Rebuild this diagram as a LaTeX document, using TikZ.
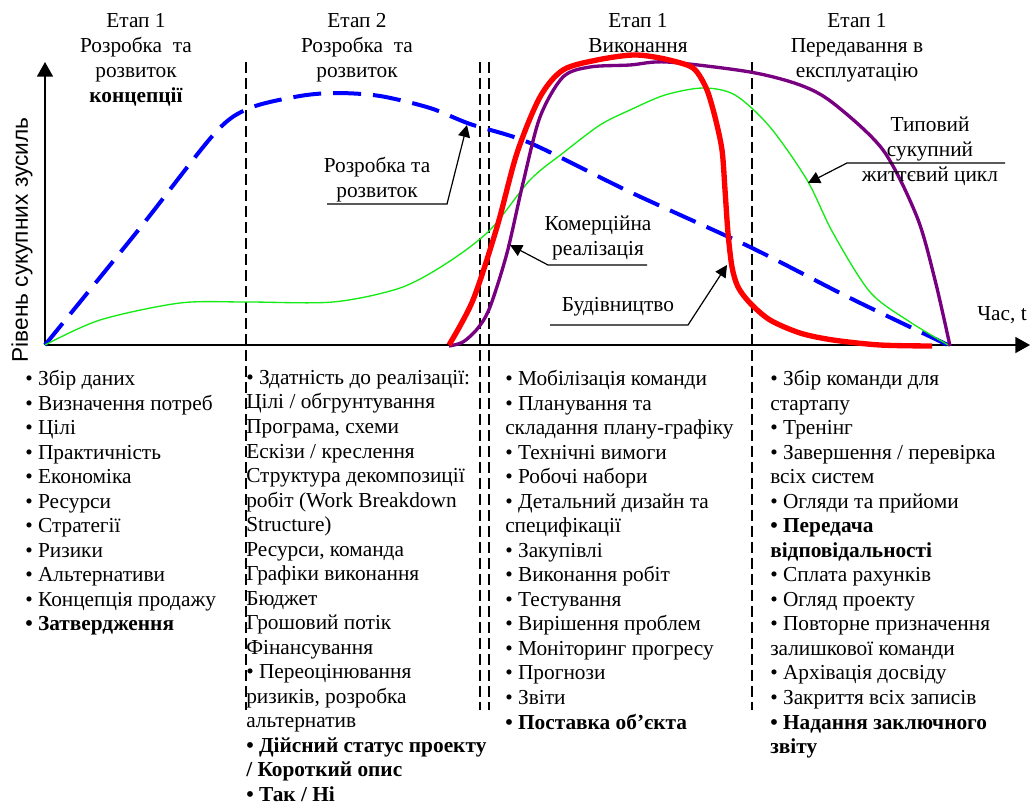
\documentclass[tikz,border=0pt]{standalone}
\usepackage{fontspec}
\setmainfont{Liberation Serif}
\newfontfamily\axisfont{Liberation Sans}
\usetikzlibrary{arrows.meta}

\definecolor{devblue}{RGB}{0,0,255}
\definecolor{buildred}{RGB}{255,0,0}
\definecolor{commgreen}{RGB}{20,235,20}
\definecolor{lifepurple}{RGB}{120,0,128}

\tikzset{
  stage/.style={align=center, anchor=north, inner sep=0pt},
  tasks/.style={align=left, anchor=north west, inner sep=0pt, font=\fontsize{16pt}{18.4pt}\selectfont},
  callout/.style={align=center, anchor=north, inner sep=0pt},
  divider/.style={line width=1.2pt, dash pattern=on 8pt off 4pt},
  axis/.style={line width=1.3pt, -{Triangle[length=11pt,width=12pt]}},
  pointer/.style={line width=0.9pt, -{Triangle[length=9pt,width=9pt]}},
}

\begin{document}
\begin{tikzpicture}[x=0.75pt, y=-0.75pt, font=\fontsize{16pt}{18.7pt}\selectfont]
\useasboundingbox (0,0) rectangle (1030,806);
% stage borders
\foreach \xx in {246,480,489,752}{
    \draw[divider] (\xx,62) -- (\xx,710);
};
% stage titles
\node[stage] (stageA) at (136,13) {Етап 1\\Розробка\ \ та\\розвиток\\\textbf{концепції}};
\node[stage] (stageB) at (357,13) {Етап 2\\Розробка\ \ та\\розвиток};
\node[stage] (stageC) at (638,13) {Етап 1\\Виконання};
\node[stage] (stageD) at (857,13) {Етап 1\\Передавання в\\експлуатацію};
% axes
\coordinate (O) at (45,345);
\coordinate (yTop) at (45,62);
\coordinate (xEnd) at (1030,345);
\draw[axis] (O) -- (yTop);
\draw[axis] (O) -- (xEnd);
\node[rotate=90, font=\axisfont\fontsize{17pt}{19pt}\selectfont] (effort) at (22,240) {Рівень сукупних зусиль};
\node (time) at (1002,315) {Час, t};
% curves
\draw[devblue, line width=3pt, dash pattern=on 21pt off 9pt] plot[smooth, tension=0.5] coordinates {
  (45,345) (140,228) (215,133) (250,108) (300,96) (337,93) (380,96) (430,108)
  (470,124) (530,143) (630,192) (750,247) (850,298) (950,346)};
\draw[commgreen, line width=1pt] plot[smooth, tension=0.5] coordinates {
  (45,345) (100,320) (180,303) (247,302) (333,302) (400,288) (447,263) (490,230)
  (530,180) (563,153) (600,125) (630,110) (665,95) (703,88) (735,95)
  (770,127) (807,180) (833,233) (870,292) (910,322) (950,346)};
\draw[lifepurple, line width=2.5pt] plot[smooth, tension=0.5] coordinates {
  (449,346) (463,342) (478,328) (490,307) (507,253) (523,183) (540,117) (563,77)
  (590,67) (630,65) (667,62) (750,72) (800,85) (833,103) (883,150) (917,217) (935,280) (950,346)};
\draw[buildred, line width=4pt] plot[smooth, tension=0.5] coordinates {
  (449,345) (473,300) (497,227) (517,153) (540,97) (563,70) (597,60) (633,55)
  (660,58) (687,65) (697,72) (707,90) (715,117) (722,150) (725,190) (728,233)
  (732,267) (738,287) (750,303) (770,320) (800,333) (833,340) (880,345) (932,346)};
% callouts
\node[callout] (devLbl) at (377,157) {Розробка та\\розвиток};
\coordinate (devA) at (327,204);
\coordinate (devB) at (447,204);
\coordinate (devTip) at (467,125);
\draw[pointer] (devA) -- (devB) -- (devTip);
\node[callout] (comLbl) at (598,216) {Комерційна\\реалізація};
\coordinate (comA) at (647,265);
\coordinate (comB) at (548,265);
\coordinate (comTip) at (510,245);
\draw[pointer] (comA) -- (comB) -- (comTip);
\node[callout] (bldLbl) at (618,297) {Будівництво};
\coordinate (bldA) at (550,325);
\coordinate (bldB) at (688,325);
\coordinate (bldTip) at (727,265);
\draw[pointer] (bldA) -- (bldB) -- (bldTip);
\node[callout] (lifeLbl) at (930,117) {Типовий\\сукупний\\життєвий цикл};
\coordinate (lifeA) at (1005,163);
\coordinate (lifeB) at (847,163);
\coordinate (lifeTip) at (808,183);
\draw[pointer] (lifeA) -- (lifeB) -- (lifeTip);
% task lists
\node[tasks] (tasksA) at (25,370) {• Збір даних\\• Визначення потреб\\• Цілі\\• Практичність\\• Економіка\\• Ресурси\\• Стратегії\\• Ризики\\• Альтернативи\\• Концепція продажу\\\textbf{• Затвердження}};
\node[tasks] (tasksB) at (246,370) {• Здатність до реалізації:\\Цілі / обгрунтування\\Програма, схеми\\Ескізи / креслення\\Структура декомпозиції\\робіт (Work Breakdown\\Structure)\\Ресурси, команда\\Графіки виконання\\Бюджет\\Грошовий потік\\Фінансування\\• Переоцінювання\\ризиків, розробка\\альтернатив\\\textbf{• Дійсний статус проекту}\\\textbf{/ Короткий опис}\\\textbf{• Так / Ні}};
\node[tasks] (tasksC) at (505,370) {• Мобілізація команди\\• Планування та\\складання плану-графіку\\• Технічні вимоги\\• Робочі набори\\• Детальний дизайн та\\специфікації\\• Закупівлі\\• Виконання робіт\\• Тестування\\• Вирішення проблем\\• Моніторинг прогресу\\• Прогнози\\• Звіти\\\textbf{• Поставка об'єкта}};
\node[tasks] (tasksD) at (770,370) {• Збір команди для\\стартапу\\• Тренінг\\• Завершення / перевірка\\всіх систем\\• Огляди та прийоми\\\textbf{• Передача}\\\textbf{відповідальності}\\• Сплата рахунків\\• Огляд проекту\\• Повторне призначення\\залишкової команди\\• Архівація досвіду\\• Закриття всіх записів\\\textbf{• Надання заключного}\\\textbf{звіту}};
\end{tikzpicture}
\end{document}
